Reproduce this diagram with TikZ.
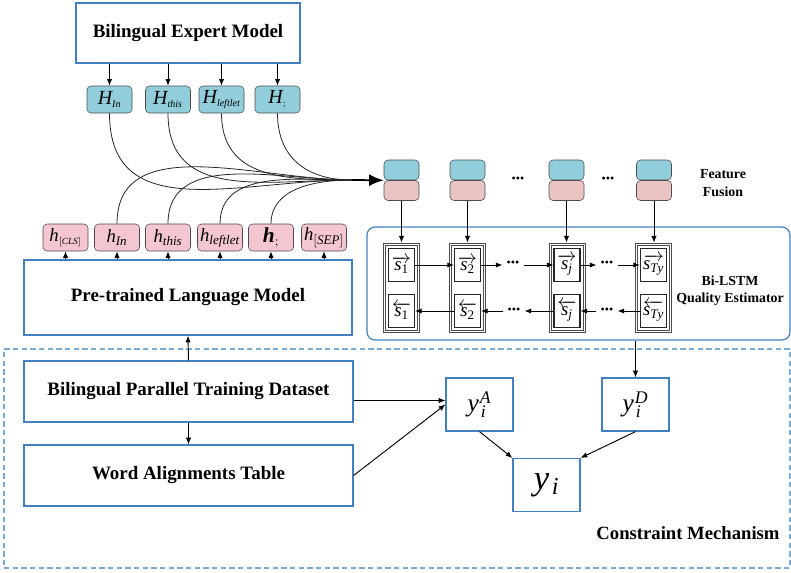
\documentclass[tikz,border=0pt]{standalone}
\usepackage{bm}
\usepackage{fontspec}
\setmainfont{Liberation Serif}
\usetikzlibrary{arrows.meta,positioning,calc}

\definecolor{hblue}{RGB}{146,205,220}
\definecolor{hpink}{RGB}{244,199,208}
\definecolor{fpink}{RGB}{233,196,194}
\definecolor{boxblue}{RGB}{66,128,192}
\definecolor{dashblue}{RGB}{122,170,214}

\newcommand{\bigsub}[2]{\mathit{#1}_{\scriptscriptstyle\mathit{#2}}}
\newcommand{\midsub}[2]{\mathit{#1}_{\mathit{#2}}}

\begin{document}
\begin{tikzpicture}[
    x=0.75pt, y=-0.75pt, >={Latex[length=5pt,width=4pt]},
    bigbox/.style={draw=boxblue, line width=0.9pt, inner sep=0pt, font=\fontsize{14.2}{17}\selectfont\bfseries},
    hbluebox/.style={draw=black!70, fill=hblue, rounded corners=3pt, minimum width=33.75pt, minimum height=20.25pt, inner sep=0pt, font=\fontsize{15}{15}\selectfont},
    hpinkbox/.style={hbluebox, fill=hpink, font=\fontsize{14}{14}\selectfont},
    fusebox/.style={draw=black!70, rounded corners=3pt, minimum width=26.25pt, minimum height=15pt, inner sep=0pt},
    colbox/.style={draw=black!70, line width=0.6pt, minimum width=27pt, minimum height=66.75pt, inner sep=0pt},
    statebox/.style={draw=black!85, line width=0.8pt, minimum width=19.5pt, minimum height=24.75pt, inner sep=0pt, font=\fontsize{14}{14}\selectfont},
    outbox/.style={draw=boxblue, line width=0.9pt, minimum width=50.25pt, minimum height=39.75pt, inner sep=0pt},
    dotsnode/.style={inner sep=3pt, font=\fontsize{9}{9}\selectfont},
    smalltext/.style={align=center, font=\fontsize{10.4}{13}\selectfont\bfseries},
    arr/.style={->, line width=0.7pt},
    curve/.style={line width=0.6pt, black!85}
]
\useasboundingbox (0,0) rectangle (791,572);

% expert model and its outputs
\node[bigbox, minimum width=168pt, minimum height=45pt] (bem) at (188,33) {Bilingual Expert Model};
\node[hbluebox] (hin) at (109.5,99.5) {$\bigsub{H}{In}$};
\node[hbluebox] (hthis) at (168,99.5) {$\bigsub{H}{this}$};
\node[hbluebox] (hleft) at (221.5,99.5) {$\bigsub{H}{leftlet}$};
\node[hbluebox] (hsemi) at (277.5,99.5) {$\bigsub{H}{;}$};
\foreach \n in {hin,hthis,hleft,hsemi}
    \draw[arr] (\n.north |- bem.south) -- (\n.north);

% language model and its outputs
\node[bigbox, minimum width=246pt, minimum height=56.25pt] (plm) at (188,297.5) {Pre-trained Language Model};
\node[hpinkbox] (lcls) at (65.5,237.5) {$\bigsub{h}{[CLS]}$};
\node[hpinkbox] (lin) at (117,237.5) {$\midsub{h}{In}$};
\node[hpinkbox] (lthis) at (168,237.5) {$\midsub{h}{this}$};
\node[hpinkbox] (lleft) at (220,237.5) {$\midsub{h}{leftlet}$};
\node[hpinkbox] (lsemi) at (271,237.5) {$\mbox{\fontsize{16}{16}\selectfont\bfseries\itshape h}_{;}$};
\node[hpinkbox] (lsep) at (324,237.5) {$\midsub{h}{[SEP]}$};
\foreach \n in {lcls,lin,lthis,lleft,lsemi,lsep}
    \draw[arr] (\n.south |- plm.north) -- (\n.south);

% feature fusion
\foreach \i/\x in {1/401.5,2/467.5,3/566.5,4/654}{
    \node[fusebox, fill=hblue] (f\i t) at (\x,170) {};
    \node[fusebox, fill=fpink] (f\i b) at (\x,190.5) {};
}
\node[dotsnode] (fd1) at (518,180) {•••};
\node[dotsnode] (fd2) at (608,180) {•••};
\node[smalltext] (fflabel) at (723,183) {Feature\\Fusion};

\coordinate (merge) at (352,180);
\foreach \n in {hin,hthis,hleft,hsemi}
    \draw[curve] (\n.south) to[out=-90,in=180,looseness=1.15] (merge);
\foreach \n in {lin,lthis,lleft,lsemi}
    \draw[curve] (\n.north) to[out=90,in=180] (merge);
\draw[-{Latex[length=11pt,width=9pt]}, line width=1.3pt] (merge) -- (f1t.south west);

% Bi-LSTM estimator
\node[draw=boxblue, line width=0.9pt, rounded corners=6pt, minimum width=317.25pt, minimum height=84.75pt] (bilstm) at (578.5,283.5) {};
\foreach \i/\x/\s in {1/401.5/\mathrm{1},2/467.5/\mathrm{2},3/567/\mathit{j},4/653.5/\mathit{Ty}}{
    \node[colbox] (col\i) at (\x,287.5) {};
    \draw[black!70, line width=0.6pt] ([shift={(1.8pt,-1.8pt)}]col\i.north west) rectangle ([shift={(-1.8pt,1.8pt)}]col\i.south east);
    \node[statebox] (fw\i) at (\x,265) {$\overrightarrow{\mathit{s}_{\s}}$};
    \node[statebox] (bw\i) at (\x,311) {$\overleftarrow{\mathit{s}_{\s}}$};
    \draw[arr] (f\i b.south) -- (f\i b.south |- col\i.north);
}
\node[dotsnode] (fwd1) at (513,264) {•••};
\node[dotsnode] (fwd2) at (607,264) {•••};
\node[dotsnode] (bwd1) at (514,311) {•••};
\node[dotsnode] (bwd2) at (607,311) {•••};
\draw[arr] (fw1) -- (fw2);
\draw[arr] (fw2.east) -- (fwd1.west |- fw2.east);
\draw[arr] (fwd1.east |- fw3.west) -- (fw3.west);
\draw[arr] (fw3.east) -- (fwd2.west |- fw3.east);
\draw[arr] (fwd2.east |- fw4.west) -- (fw4.west);
\draw[arr] (bw2) -- (bw1);
\draw[arr] (bwd1.west |- bw2.east) -- (bw2.east);
\draw[arr] (bw3.west) -- (bwd1.east |- bw3.west);
\draw[arr] (bwd2.west |- bw3.east) -- (bw3.east);
\draw[arr] (bw4.west) -- (bwd2.east |- bw4.west);
\node[smalltext] (qelabel) at (730,291) {Bi-LSTM\\Quality Estimator};

% constraint mechanism
\node[draw=dashblue, line width=0.8pt, dash pattern=on 4pt off 2.5pt, minimum width=589.5pt, minimum height=164.25pt] (cmframe) at (397,458.5) {};
\node[bigbox, minimum width=246.75pt, minimum height=45.75pt] (bptd) at (188.5,391.5) {Bilingual Parallel Training Dataset};
\node[bigbox, minimum width=246.75pt, minimum height=45.75pt] (wat) at (188.5,475.5) {Word Alignments Table};
\node[outbox, font=\fontsize{19}{19}\selectfont] (ya) at (479.5,404.5) {$\mathit{y}_{\mkern2mu\mathit{i}}^{\mkern1mu\mathit{A}}$};
\node[outbox, font=\fontsize{19}{19}\selectfont] (yd) at (635.5,404.5) {$\mathit{y}_{\mkern2mu\mathit{i}}^{\mkern1mu\mathit{D}}$};
\node[outbox, font=\fontsize{26}{26}\selectfont] (yi) at (546.5,485) {$\mathit{y}_{\mkern2mu\mathit{i}}$};
\node[font=\fontsize{14}{17}\selectfont\bfseries] (cmlabel) at (688,533) {Constraint Mechanism};

\draw[arr] (bptd.north) -- (plm.south);
\draw[arr] (bptd.south) -- (wat.north);
\draw[arr] ([yshift=3pt]ya.west -| bptd.east) -- ([yshift=3pt]ya.west);
\draw[arr] (wat.east) -- (ya.west);
\draw[arr] (yd.north |- bilstm.south) -- (yd.north);
\draw[arr] (ya.south) -- (yi.north west);
\draw[arr] (yd.south) -- (yi.north east);
\end{tikzpicture}
\end{document}
